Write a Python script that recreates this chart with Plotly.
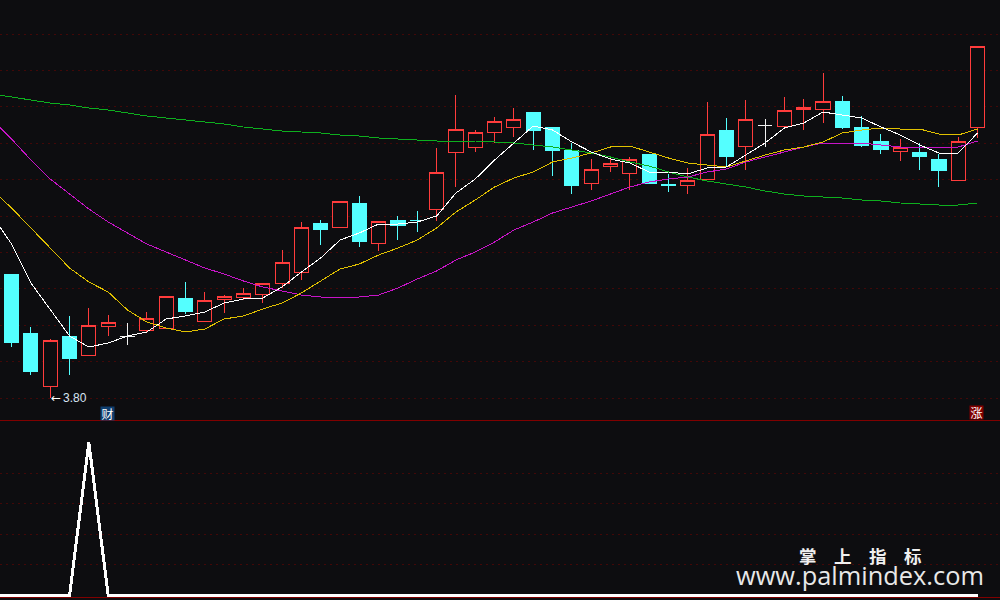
import plotly.graph_objects as go

BG = "#0D0D10"
RED = "#FF3C3C"
CYAN = "#54FFFF"
WHITE = "#F0F0F0"
FRAME = "#800000"

opens = [4.42,4.125,3.86,4.11,4.015,4.16,4.11,4.14,4.15,4.30,4.185,4.295,4.305,4.32,4.375,4.43,4.675,4.655,4.775,4.575,4.69,4.69,4.745,5.03,5.055,5.13,5.155,5.23,5.155,5.04,4.875,4.96,4.925,5.02,4.87,4.865,4.895,5.14,5.06,5.165,5.16,5.245,5.245,5.285,5.155,5.085,5.035,5.03,4.995,4.89,5.155]
closes = [4.08,3.935,4.09,4.00,4.165,4.18,4.11,4.20,4.31,4.235,4.29,4.31,4.325,4.375,4.48,4.655,4.645,4.785,4.585,4.685,4.665,4.69,4.93,5.145,5.13,5.185,5.195,5.14,5.04,4.865,4.945,4.975,4.995,4.875,4.865,4.89,5.12,5.01,5.195,5.165,5.24,5.255,5.285,5.155,5.065,5.045,5.055,5.01,4.94,5.085,5.56]
highs = [4.42,4.155,4.095,4.21,4.25,4.215,4.175,4.23,4.31,4.38,4.33,4.315,4.35,4.375,4.54,4.68,4.69,4.785,4.81,4.685,4.71,4.735,5.05,5.315,5.14,5.205,5.25,5.23,5.155,5.075,4.995,5.0,5.005,5.02,4.92,4.95,5.28,5.2,5.29,5.195,5.305,5.295,5.425,5.31,5.21,5.12,5.095,5.075,5.02,5.105,5.56]
lows = [4.055,3.915,3.80,3.915,4.015,4.11,4.065,4.13,4.145,4.22,4.18,4.225,4.29,4.275,4.35,4.39,4.565,4.655,4.555,4.535,4.59,4.63,4.685,4.855,5.03,5.075,5.105,5.04,4.91,4.82,4.84,4.93,4.84,4.875,4.83,4.82,4.89,4.955,4.94,5.055,5.16,5.14,5.175,5.145,5.055,5.02,4.985,4.94,4.855,4.89,5.10]
kinds = ["c","c","r","c","r","r","w","r","r","c","r","r","r","r","r","r","c","r","c","r","c","c","r","r","r","r","r","c","c","c","r","r","r","c","c","r","r","c","r","w","r","r","r","c","c","c","r","c","c","r","r"]

ma_x = list(range(-1, 51))
ma5 = [4.71,4.57,4.375,4.24,4.11,4.055,4.075,4.11,4.13,4.195,4.21,4.23,4.275,4.295,4.30,4.355,4.43,4.50,4.59,4.625,4.67,4.67,4.68,4.71,4.825,4.895,4.99,5.075,5.16,5.14,5.08,5.03,4.995,4.975,4.93,4.93,4.92,4.95,4.955,5.015,5.075,5.15,5.175,5.23,5.215,5.20,5.155,5.115,5.065,5.025,5.025,5.125]
ma10 = [4.84,4.75,4.65,4.55,4.45,4.38,4.33,4.24,4.18,4.15,4.13,4.145,4.195,4.21,4.245,4.275,4.325,4.385,4.445,4.47,4.515,4.55,4.59,4.65,4.73,4.79,4.855,4.90,4.93,4.98,5.0,5.025,5.055,5.06,5.03,5.0,4.975,4.965,4.955,4.985,5.015,5.04,5.055,5.08,5.125,5.14,5.15,5.145,5.145,5.12,5.115,5.145]
ma30 = [5.19,5.095,4.99,4.895,4.82,4.745,4.68,4.625,4.57,4.53,4.49,4.45,4.42,4.385,4.355,4.335,4.315,4.305,4.305,4.305,4.315,4.35,4.395,4.435,4.49,4.53,4.58,4.64,4.68,4.725,4.755,4.785,4.82,4.855,4.88,4.895,4.905,4.93,4.945,4.98,5.005,5.03,5.055,5.075,5.075,5.075,5.065,5.055,5.055,5.05,5.055,5.085]
ma120 = [5.32,5.305,5.29,5.275,5.265,5.25,5.24,5.225,5.21,5.20,5.19,5.18,5.17,5.155,5.145,5.135,5.13,5.125,5.115,5.11,5.10,5.095,5.09,5.085,5.085,5.085,5.08,5.075,5.065,5.055,5.04,5.025,5.005,4.98,4.96,4.93,4.905,4.885,4.87,4.855,4.835,4.82,4.81,4.805,4.80,4.79,4.785,4.775,4.77,4.765,4.765,4.775]
signal = [0,0,0,0,0,100,0,0,0,0,0,0,0,0,0,0,0,0,0,0,0,0,0,0,0,0,0,0,0,0,0,0,0,0,0,0,0,0,0,0,0,0,0,0,0,0,0,0,0,0,0,0]

price_grid = [3.80,3.982,4.164,4.346,4.528,4.71,4.892,5.074,5.256,5.438,5.62]
signal_grid = [20,40,60,80]

fig = go.Figure()

def add_candles(kind, color):
    idx = [i for i, k in enumerate(kinds) if k == kind]
    fill = BG if kind == "r" else color
    style = dict(line=dict(color=color, width=1), fillcolor=fill)
    fig.add_trace(go.Candlestick(
        x=idx,
        open=[opens[i] for i in idx], high=[highs[i] for i in idx],
        low=[lows[i] for i in idx], close=[closes[i] for i in idx],
        increasing=style, decreasing=style, whiskerwidth=0,
        showlegend=False, hoverinfo="skip", xaxis="x", yaxis="y"))

add_candles("r", RED)
add_candles("c", CYAN)
add_candles("w", WHITE)

for vals, color in [(ma120, "#0DAF1E"), (ma30, "#C814C8"), (ma10, "#E0C000"), (ma5, "#FFFFFF")]:
    fig.add_trace(go.Scatter(x=ma_x, y=vals, mode="lines", line=dict(color=color, width=1),
                             showlegend=False, hoverinfo="skip", xaxis="x", yaxis="y"))

fig.add_trace(go.Scatter(x=ma_x, y=signal, mode="lines", line=dict(color="#FFFFFF", width=3),
                         showlegend=False, hoverinfo="skip", xaxis="x2", yaxis="y2"))

X_RANGE = [-0.6, 51.16]
axis_x = dict(range=X_RANGE, showgrid=False, zeroline=False, showticklabels=False, ticks="",
              rangeslider=dict(visible=False), showline=False)
axis_y = dict(showline=False, zeroline=False, showticklabels=False, ticks="", showgrid=True,
              gridcolor="#420808", griddash="2px,4px", gridwidth=1)

fig.update_layout(
    width=1000, height=600, autosize=False,
    margin=dict(l=0, r=0, t=0, b=0),
    paper_bgcolor=BG, plot_bgcolor=BG,
    boxmode="overlay", boxgap=0.27, boxgroupgap=0,
    showlegend=False,
    xaxis=dict(axis_x, domain=[0, 1], anchor="y"),
    xaxis2=dict(axis_x, domain=[0, 1], anchor="y2"),
    yaxis=dict(axis_y, domain=[179 / 600, 1], range=[3.685, 5.79], tickmode="array", tickvals=price_grid),
    yaxis2=dict(axis_y, domain=[2 / 600, 179 / 600], range=[-1.63, 114.05], tickmode="array", tickvals=signal_grid),
)

for frame_y in (420.5, 597.5):
    fig.add_shape(type="line", xref="paper", yref="paper", x0=0, x1=1,
                  y0=1 - frame_y / 600, y1=1 - frame_y / 600, line=dict(color=FRAME, width=1))

def px_note(text, x, y, family, size, color, **kw):
    fig.add_annotation(text=text, xref="paper", yref="paper", x=x / 1000, y=1 - y / 600,
                       xanchor="center", yanchor="middle", showarrow=False,
                       font=dict(family=family, size=size, color=color), **kw)

px_note("←", 56, 398, "DejaVu Sans", 12, "#FFFFFF")
px_note("3.80", 75, 398, "Liberation Sans", 12, "#D8E6F4")
px_note("财", 107.5, 413, "Noto Sans CJK SC", 12, "#FFFFFF", bgcolor="#0F3F70", width=13, height=13, borderpad=0)
px_note("涨", 976.5, 412.5, "Noto Sans CJK SC", 12, "#FFFFFF", bgcolor="#800000", width=13, height=13, borderpad=0)
px_note("<b>掌　上　指　标</b>", 860, 555, "Noto Sans CJK SC", 17.5, "#F0F0F0")
px_note("www.palmindex.com", 860, 575, "Open Sans", 25.4, "#E8E8E8")

crisp = ("var s=document.createElement('style');"
         "s.textContent='.main-svg path{shape-rendering:crispEdges !important}';"
         "document.head.appendChild(s);"
         "document.body.style.margin='0';document.body.style.background='#0D0D10';")
fig.write_html("out.html", config={"displayModeBar": False}, post_script=crisp)
